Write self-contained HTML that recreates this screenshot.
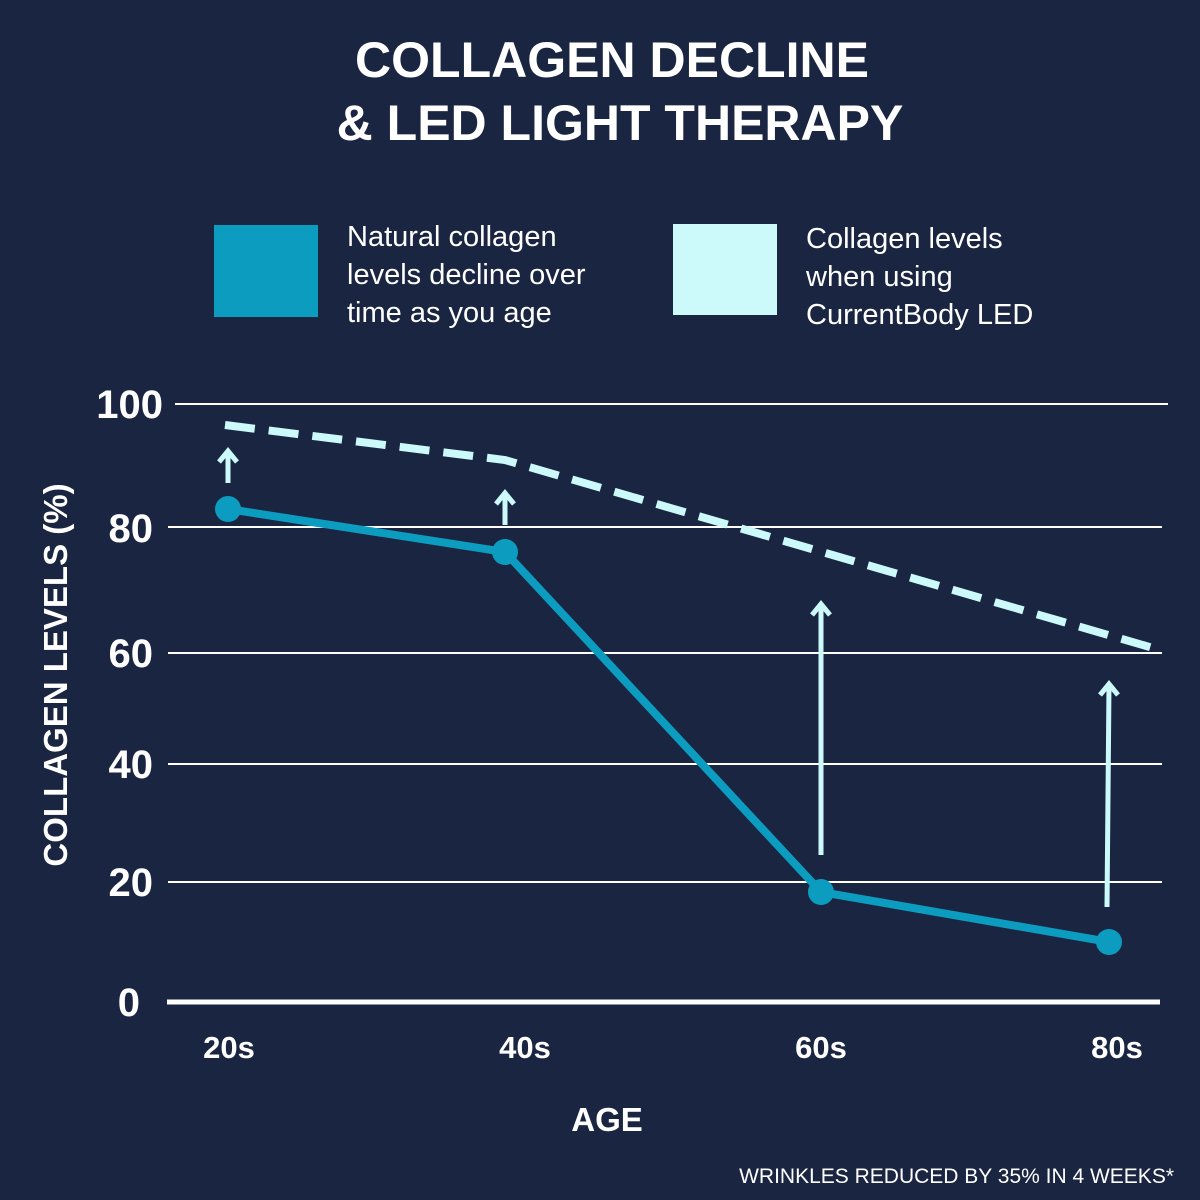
<!DOCTYPE html>
<html><head><meta charset="utf-8"><style>
html,body{margin:0;padding:0;background:#1a2541;}
svg{display:block}
text{font-family:"Liberation Sans",sans-serif;fill:#fff}
</style></head><body>
<svg width="1200" height="1200" viewBox="0 0 1200 1200">
<rect width="1200" height="1200" fill="#1a2541"/>
<text x="612" y="77" text-anchor="middle" font-size="50" font-weight="bold">COLLAGEN DECLINE</text>
<text x="620" y="140" text-anchor="middle" font-size="50" font-weight="bold">&amp; LED LIGHT THERAPY</text>
<rect x="214" y="225" width="104" height="92" fill="#0c9cc0"/>
<text font-size="29"><tspan x="347" y="246">Natural collagen</tspan><tspan x="347" y="284">levels decline over</tspan><tspan x="347" y="322">time as you age</tspan></text>
<rect x="673" y="224" width="104" height="91" fill="#ccfafa"/>
<text font-size="29"><tspan x="806" y="248">Collagen levels</tspan><tspan x="806" y="286">when using</tspan><tspan x="806" y="324">CurrentBody LED</tspan></text>
<g stroke="#fff" stroke-width="2">
<line x1="175" y1="404" x2="1168" y2="404"/>
<line x1="168" y1="527" x2="1162" y2="527"/>
<line x1="168" y1="653" x2="1162" y2="653"/>
<line x1="168" y1="764" x2="1162" y2="764"/>
<line x1="168" y1="882" x2="1162" y2="882"/>
</g>
<line x1="167" y1="1002" x2="1160" y2="1002" stroke="#fff" stroke-width="5"/>
<g font-size="40" font-weight="bold" text-anchor="end">
<text x="163" y="418">100</text><text x="153" y="542">80</text><text x="153" y="667">60</text>
<text x="153" y="778">40</text><text x="153" y="896">20</text><text x="140" y="1016">0</text>
</g>
<text transform="translate(67,675) rotate(-90)" text-anchor="middle" font-size="33" font-weight="bold">COLLAGEN LEVELS (%)</text>
<g font-size="31" font-weight="bold" text-anchor="middle">
<text x="229" y="1058">20s</text><text x="525" y="1058">40s</text><text x="821" y="1058">60s</text><text x="1117" y="1058">80s</text>
</g>
<text x="607" y="1131" text-anchor="middle" font-size="33" font-weight="bold">AGE</text>
<text x="1174" y="1183" text-anchor="end" font-size="21">WRINKLES REDUCED BY 35% IN 4 WEEKS*</text>
<polyline points="225,425 505,460 1160,650" fill="none" stroke="#ccfafa" stroke-width="8" stroke-dasharray="30,14"/>
<polyline points="228,509 505,552 821,892 1109,942" fill="none" stroke="#0c9cc0" stroke-width="8"/>
<g fill="#0c9cc0"><circle cx="228" cy="509" r="13"/><circle cx="505" cy="552" r="13"/><circle cx="821" cy="892" r="13"/><circle cx="1109" cy="942" r="13"/></g>
<g stroke="#ccfafa" stroke-width="5" fill="none">
<line x1="228" y1="483" x2="228" y2="452"/><polyline points="219,462 228,451 237,462"/>
<line x1="505" y1="525" x2="505" y2="494"/><polyline points="496,504 505,493 514,504"/>
<line x1="821" y1="855" x2="821" y2="605"/><polyline points="812,615 821,604 830,615"/>
<line x1="1107" y1="907" x2="1109" y2="685"/><polyline points="1100,695 1109,684 1118,695"/>
</g>
</svg>
</body></html>
